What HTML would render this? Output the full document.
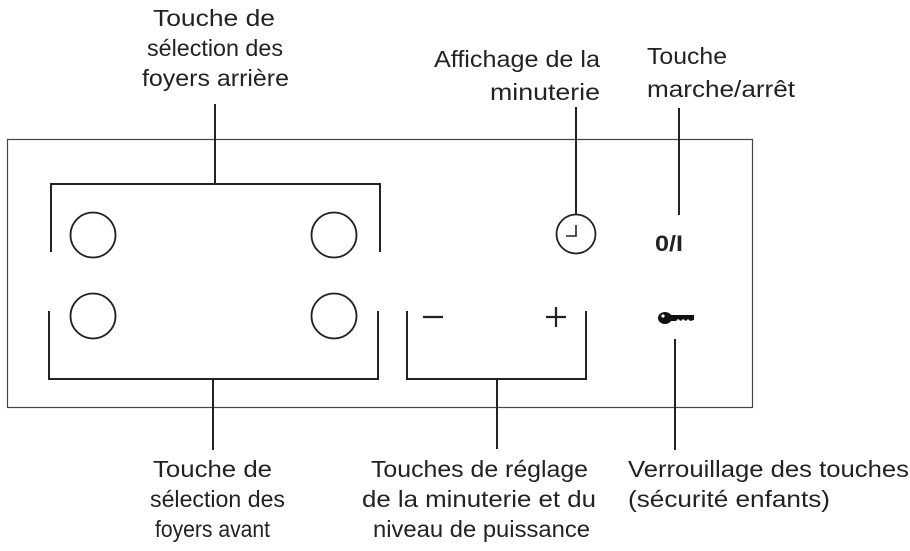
<!DOCTYPE html>
<html><head><meta charset="utf-8"><style>
html,body{margin:0;padding:0;background:#fff;}
svg{display:block;}
text{font-family:"Liberation Sans",sans-serif;font-size:23px;fill:#222;}
</style></head><body>
<svg width="910" height="551" viewBox="0 0 910 551" xmlns="http://www.w3.org/2000/svg">
<g fill="none" stroke="#222">
<rect x="7.5" y="139.5" width="745" height="268" stroke="#444" stroke-width="1.2"/>
<g stroke-width="2">
<polyline points="51,252 51,184 380,184 380,252"/>
<line x1="215" y1="104" x2="215" y2="184"/>
<polyline points="49,311 49,379 378,379 378,311"/>
<line x1="213" y1="379" x2="213" y2="450"/>
<polyline points="407,311 407,379 586,379 586,311"/>
<line x1="497" y1="379" x2="497" y2="449"/>
<line x1="576" y1="107" x2="576" y2="215"/>
<line x1="679" y1="108" x2="679" y2="215"/>
<line x1="675" y1="339" x2="675" y2="450"/>
</g>
<g stroke-width="1.8">
<circle cx="93" cy="235" r="22.5"/>
<circle cx="334" cy="235" r="22.5"/>
<circle cx="93" cy="316" r="22.5"/>
<circle cx="334" cy="316" r="22.5"/>
<circle cx="576" cy="234" r="19.5"/>
<polyline points="576,225 576,236 566,236" stroke-width="1.6"/>
<line x1="423" y1="317" x2="443" y2="317" stroke-width="2.2"/>
<line x1="546" y1="317" x2="566" y2="317" stroke-width="2.2"/>
<line x1="556" y1="307" x2="556" y2="327" stroke-width="2.2"/>
</g>
</g>
<text x="655" y="251" textLength="28" lengthAdjust="spacingAndGlyphs" style="font-weight:bold;font-size:22px" fill="#111">0/I</text>
<g fill="#111">
<ellipse cx="665" cy="318" rx="7" ry="6"/>
<path d="M670,315 L694,315 L694,320 L690,321 L688,319 L686,321 L683,319 L681,321 L678,319 L676,321 L670,321 Z"/>
</g>
<circle cx="663" cy="316" r="1.6" fill="#fff"/>
<g>
<text x="153" y="26" textLength="122" lengthAdjust="spacingAndGlyphs">Touche de</text>
<text x="147" y="56" textLength="136" lengthAdjust="spacingAndGlyphs">sélection des</text>
<text x="142" y="86" textLength="147" lengthAdjust="spacingAndGlyphs">foyers arrière</text>
<text x="434" y="67" textLength="166" lengthAdjust="spacingAndGlyphs">Affichage de la</text>
<text x="490" y="100" textLength="110" lengthAdjust="spacingAndGlyphs">minuterie</text>
<text x="647" y="64" textLength="80" lengthAdjust="spacingAndGlyphs">Touche</text>
<text x="647" y="97" textLength="148" lengthAdjust="spacingAndGlyphs">marche/arrêt</text>
<text x="153" y="477" textLength="119" lengthAdjust="spacingAndGlyphs">Touche de</text>
<text x="150" y="507" textLength="135" lengthAdjust="spacingAndGlyphs">sélection des</text>
<text x="155" y="537" textLength="115" lengthAdjust="spacingAndGlyphs">foyers avant</text>
<text x="371" y="477" textLength="217" lengthAdjust="spacingAndGlyphs">Touches de réglage</text>
<text x="362" y="507" textLength="234" lengthAdjust="spacingAndGlyphs">de la minuterie et du</text>
<text x="373" y="537" textLength="217" lengthAdjust="spacingAndGlyphs">niveau de puissance</text>
<text x="628" y="477" textLength="281" lengthAdjust="spacingAndGlyphs">Verrouillage des touches</text>
<text x="628" y="507" textLength="202" lengthAdjust="spacingAndGlyphs">(sécurité enfants)</text>
</g>
</svg>
</body></html>
